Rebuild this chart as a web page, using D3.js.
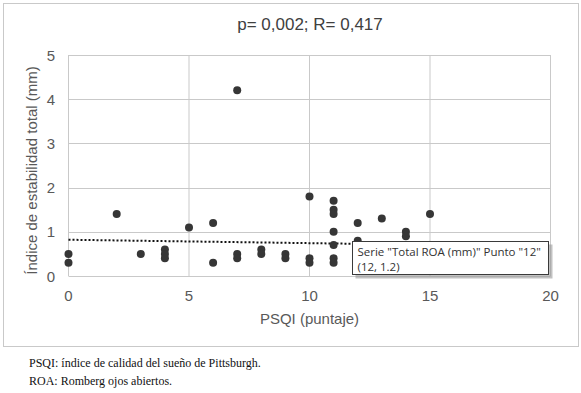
<!DOCTYPE html>
<html>
<head>
<meta charset="utf-8">
<script src="https://cdn.jsdelivr.net/npm/d3@7"></script>
<style>
  html, body { margin: 0; padding: 0; background: #fff; }
  svg { display: block; }
</style>
</head>
<body>
<svg id="chart" width="581" height="393"></svg>
<script>
// --- datos ---
const psqi = [0, 0, 2, 3, 4, 4, 4, 5, 6, 6, 7, 7, 7, 8, 8, 9, 9, 10, 10, 10,
              11, 11, 11, 11, 11, 11, 11, 12, 12, 13, 14, 14, 15];
const roa  = [0.5, 0.3, 1.4, 0.5, 0.6, 0.5, 0.4, 1.1, 1.2, 0.3, 4.2, 0.5, 0.4, 0.6, 0.5, 0.5, 0.4, 1.8, 0.4, 0.3,
              1.7, 1.5, 1.4, 1.0, 0.7, 0.4, 0.3, 1.2, 0.8, 1.3, 1.0, 0.9, 1.4];
const trendX = [0, 15];
const trendY = [0.82, 0.705];
const xTicks = [0, 5, 10, 15, 20];
const yTicks = [0, 1, 2, 3, 4, 5];
const title = "p= 0,002; R= 0,417";
const xTitle = "PSQI (puntaje)";
const yTitle = "Índice de estabilidad total (mm)";
const tipLines = ["Serie \"Total ROA (mm)\" Punto \"12\"", "(12, 1.2)"];
const notes = ["PSQI: índice de calidad del sueño de Pittsburgh.", "ROA: Romberg ojos abiertos."];

const svg = d3.select("#chart");
const sans = "'Liberation Sans', Arial, sans-serif";

// marco del gráfico
svg.append("rect").attr("x", 3.5).attr("y", 3.5).attr("width", 575).attr("height", 343)
  .attr("fill", "#fff").attr("stroke", "#c9c9c9");

const x = d3.scaleLinear().domain([0, 20]).range([68.5, 550.5]);
const y = d3.scaleLinear().domain([0, 5]).range([276, 55]);

// cuadrícula
svg.append("g").selectAll("line").data(yTicks).join("line")
  .attr("x1", x(0)).attr("x2", x(20))
  .attr("y1", d => Math.round(y(d)) + 0.5).attr("y2", d => Math.round(y(d)) + 0.5)
  .attr("stroke", "#c9c9c9");
svg.append("g").selectAll("line").data(xTicks).join("line")
  .attr("x1", d => x(d)).attr("x2", d => x(d))
  .attr("y1", y(0)).attr("y2", y(5))
  .attr("stroke", "#c9c9c9");

// etiquetas de ejes
svg.append("g").selectAll("text").data(xTicks).join("text")
  .attr("x", d => x(d)).attr("y", 301)
  .attr("text-anchor", "middle").attr("font-family", sans).attr("font-size", 15)
  .attr("fill", "#595959").text(d => d);
svg.append("g").selectAll("text").data(yTicks).join("text")
  .attr("x", 55).attr("y", d => y(d) + 5.5)
  .attr("text-anchor", "end").attr("font-family", sans).attr("font-size", 15)
  .attr("fill", "#595959").text(d => d);

svg.append("text").attr("x", 310).attr("y", 30)
  .attr("text-anchor", "middle").attr("font-family", sans).attr("font-size", 17)
  .attr("fill", "#404040").text(title);
svg.append("text").attr("x", x(10)).attr("y", 324)
  .attr("text-anchor", "middle").attr("font-family", sans).attr("font-size", 15)
  .attr("fill", "#595959").text(xTitle);
svg.append("text").attr("transform", `translate(37,${(y(0) + y(5)) / 2 + 5}) rotate(-90)`)
  .attr("text-anchor", "middle").attr("font-family", sans).attr("font-size", 15)
  .attr("fill", "#595959").text(yTitle);

// línea de tendencia punteada
const line = d3.line().x(d => x(d[0])).y(d => y(d[1]));
svg.append("path").datum(d3.zip(trendX, trendY)).attr("d", line)
  .attr("fill", "none").attr("stroke", "#111").attr("stroke-width", 2)
  .attr("stroke-dasharray", "2,2");

// puntos
svg.append("g").selectAll("circle").data(d3.zip(psqi, roa)).join("circle")
  .attr("cx", d => x(d[0])).attr("cy", d => y(d[1])).attr("r", 4)
  .attr("fill", "#363636");

// tooltip de Excel
const tip = svg.append("g").attr("transform", "translate(352.5,241.5)");
tip.append("rect").attr("x", 3).attr("y", 3).attr("width", 197).attr("height", 34)
  .attr("fill", "#9a9a9a").attr("opacity", 0.6);
tip.append("rect").attr("width", 196).attr("height", 33)
  .attr("fill", "#fff").attr("stroke", "#3a3a3a");
tip.selectAll("text").data(tipLines).join("text")
  .attr("x", 5).attr("y", (d, i) => 14.5 + i * 15)
  .attr("font-family", "'Open Sans', 'Noto Sans', sans-serif").attr("font-size", 11.5)
  .attr("fill", "#333").text(d => d);

// notas al pie
svg.append("g").selectAll("text").data(notes).join("text")
  .attr("x", 29).attr("y", (d, i) => 366.5 + i * 18)
  .attr("font-family", "'Liberation Serif', 'Times New Roman', serif").attr("font-size", 12)
  .attr("fill", "#111").text(d => d);
</script>
</body>
</html>
